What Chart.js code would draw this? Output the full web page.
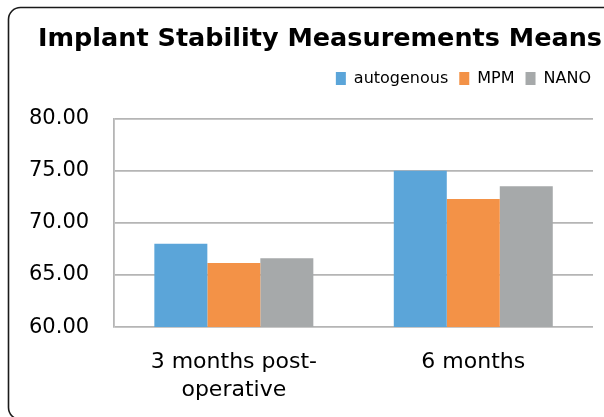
<!DOCTYPE html>
<html>
<head>
<meta charset="utf-8">
<script src="https://cdn.jsdelivr.net/npm/chart.js@4/dist/chart.umd.min.js"></script>
<style>
  html, body { margin: 0; padding: 0; background: #ffffff; }
  #wrap { width: 604px; height: 417px; position: relative; }
</style>
</head>
<body>
<div id="wrap"><canvas id="c" width="604" height="417"></canvas></div>
<script>
const categories = [['3 months post-', 'operative'], '6 months'];
const autogenous = [68.0, 75.0];
const mpm = [66.15, 72.3];
const nano = [66.6, 73.5];
const seriesNames = ['autogenous', 'MPM', 'NANO'];
const yTicks = { min: 60, max: 80, step: 5 };

const borderPlugin = {
  id: 'frame',
  beforeUpdate(chart) {
    const lg = chart.legend;
    if (lg && !lg._patched) {
      const orig = lg.fit;
      lg.fit = function () { orig.call(this); this.height += 22; };
      lg._patched = true;
    }
  },
  afterDraw(chart) {
    const ctx = chart.ctx;
    ctx.save();
    ctx.strokeStyle = '#1a1a1a';
    ctx.lineWidth = 1.6;
    const x = 8.5, y = 7.5, w = 620, h = 412, r = 12;
    ctx.beginPath();
    ctx.moveTo(x + r, y);
    ctx.lineTo(x + w - r, y);
    ctx.arcTo(x + w, y, x + w, y + r, r);
    ctx.lineTo(x + w, y + h - r);
    ctx.arcTo(x + w, y + h, x + w - r, y + h, r);
    ctx.lineTo(x + r, y + h);
    ctx.arcTo(x, y + h, x, y + h - r, r);
    ctx.lineTo(x, y + r);
    ctx.arcTo(x, y, x + r, y, r);
    ctx.closePath();
    ctx.stroke();
    ctx.restore();
  }
};

new Chart(document.getElementById('c'), {
  type: 'bar',
  data: {
    labels: categories,
    datasets: [
      { label: seriesNames[0], data: autogenous, backgroundColor: '#5ba5d9' },
      { label: seriesNames[1], data: mpm, backgroundColor: '#f39247' },
      { label: seriesNames[2], data: nano, backgroundColor: '#a6a9aa' }
    ]
  },
  options: {
    responsive: false,
    devicePixelRatio: 1,
    animation: false,
    layout: { padding: { left: 4, right: 2, top: 24, bottom: 0 } },
    datasets: { bar: { categoryPercentage: 0.664, barPercentage: 1.0 } },
    plugins: {
      title: {
        display: true,
        text: 'Implant Stability Measurements Means',
        color: '#000000',
        align: 'end',
        font: { family: 'DejaVu Sans', weight: 'bold', size: 25.5 },
        padding: { top: 0, bottom: 5 }
      },
      legend: {
        display: true,
        position: 'top',
        align: 'end',
        labels: {
          color: '#000000',
          font: { family: 'DejaVu Sans', size: 16 },
          boxWidth: 10,
          boxHeight: 13,
          padding: 11
        }
      },
      tooltip: { enabled: false }
    },
    scales: {
      x: {
        grid: { display: false },
        border: { display: false },
        ticks: {
          color: '#000000',
          font: { family: 'DejaVu Sans', size: 22, lineHeight: 1.27 },
          padding: 13,
          maxRotation: 0
        }
      },
      y: {
        min: yTicks.min,
        max: yTicks.max,
        grid: { color: '#b5b5b5', lineWidth: 1.8, drawTicks: false },
        border: { display: true, color: '#b5b5b5', width: 1.8 },
        ticks: {
          stepSize: yTicks.step,
          color: '#000000',
          font: { family: 'DejaVu Sans', size: 21 },
          padding: 25,
          callback: v => Number(v).toFixed(2)
        }
      },
      yRight: {
        position: 'right',
        display: true,
        min: yTicks.min,
        max: yTicks.max,
        grid: { display: false, drawOnChartArea: false },
        border: { display: false },
        ticks: { display: false },
        afterFit(s) { s.width = 9; }
      }
    }
  },
  plugins: [borderPlugin]
});
</script>
</body>
</html>
